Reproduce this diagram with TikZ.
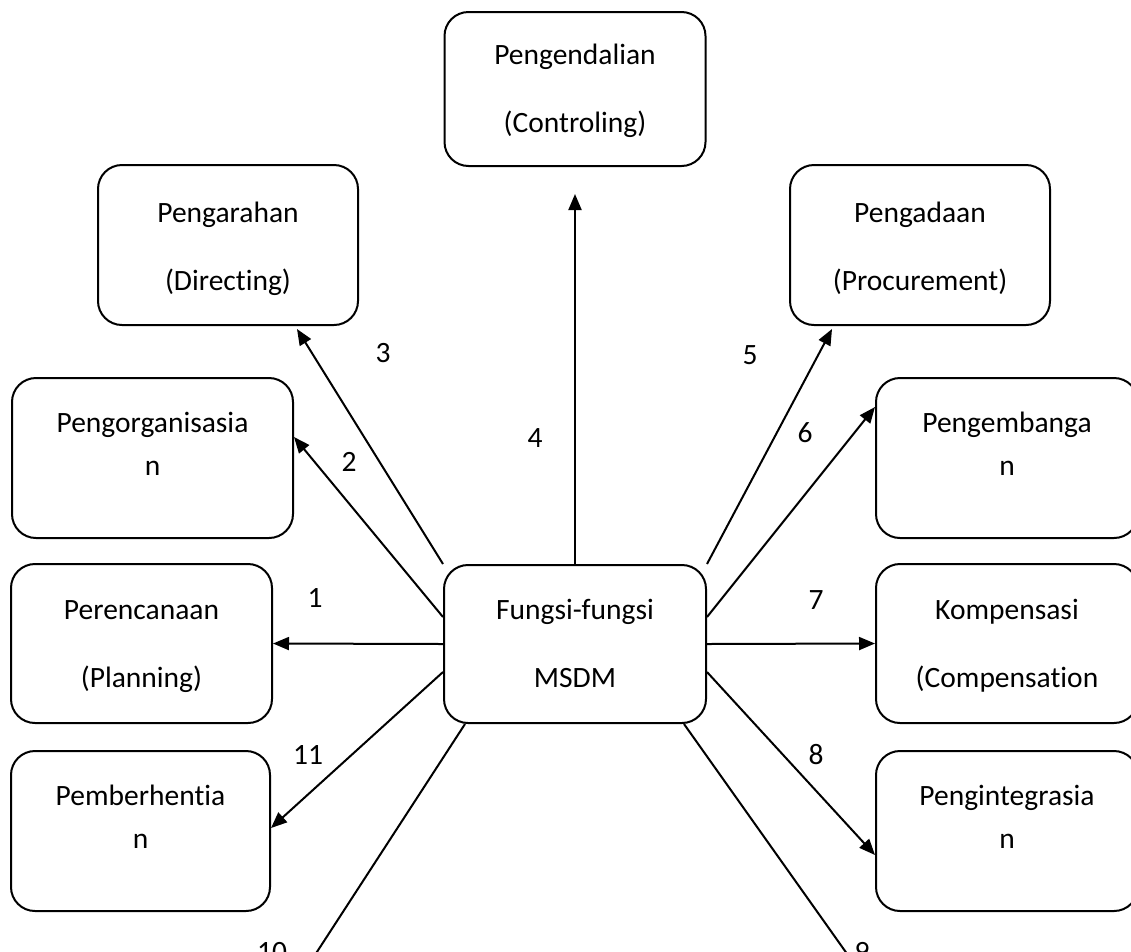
\documentclass[tikz,border=0pt]{standalone}
\usepackage{fontspec}
\setmainfont{Carlito}[Ligatures=NoCommon]
\usetikzlibrary{
  arrows.meta,  % Arrow tip "Triangle"
}
\tikzset{
  font=\fontsize{29.5}{36}\selectfont,
  >={Triangle[length=16pt,width=13pt]},
  diagram/.style={
    x=1pt,
    y=-1pt,
    line width=2pt
  },
  my box/.style={
    draw,
    rectangle,
    rounded corners=24pt,
    minimum width=261pt,
    minimum height=160pt,
    inner sep=0pt
  },
  my text/.style={
    align=center,
    inner sep=0pt
  },
  my num/.style={
    inner sep=0pt
  }
}
\newcommand{\twoline}[3]{\strut #1\\[#3]\strut #2}

\begin{document}
\begin{tikzpicture}[diagram]
\path[use as bounding box,fill=white] (0,0) rectangle (1131,951);
% Centre node
\node[my box,minimum width=262pt,minimum height=158pt] (msdm) at (575,644) {};
\node[my text] (msdm txt) at ([yshift=-2pt]msdm.center) {\twoline{Fungsi-fungsi}{MSDM}{32pt}};
% Top row
\node[my box,minimum height=154pt] (ctrl) at (575,89) {};
\node[my text] (ctrl txt) at ([yshift=-2pt]ctrl.center) {\twoline{Pengendalian}{(Controling)}{32pt}};
\node[my box,minimum width=260pt] (dir) at (228,245) {};
\node[my text] (dir txt) at ([yshift=-4pt]dir.center) {\twoline{Pengarahan}{(Directing)}{32pt}};
\node[my box,minimum width=260pt] (proc) at (920,245) {};
\node[my text] (proc txt) at ([yshift=-4pt]proc.center) {\twoline{Pengadaan}{(Procurement)}{32pt}};
% Left column
\node[my box,minimum width=281pt] (orga) at (152.5,458) {};
\node[my text] (orga txt) at ([yshift=11.5pt]orga.center) {\twoline{Pengorganisasia}{n}{7pt}};
\node[my box,minimum height=159pt] (plan) at (141.5,643.5) {};
\node[my text] (plan txt) at ([yshift=-2.5pt]plan.center) {\twoline{Perencanaan}{(Planning)}{32pt}};
\node[my box,minimum width=259pt] (stop) at (140.5,831) {};
\node[my text] (stop txt) at ([yshift=11pt]stop.center) {\twoline{Pemberhentia}{n}{7pt}};
% Right column
\node[my box,minimum width=262pt] (devel) at (1007,458) {};
\node[my text] (devel txt) at ([yshift=11.5pt]devel.center) {\twoline{Pengembanga}{n}{7pt}};
\node[my box,minimum width=262pt,minimum height=159pt] (comp) at (1007,643.5) {};
\node[my text] (comp txt) at ([yshift=-2.5pt]comp.center) {\twoline{Kompensasi}{(Compensation}{32pt}};
\node[my box,minimum width=262pt] (integ) at (1007,831) {};
\node[my text] (integ txt) at ([yshift=11pt]integ.center) {\twoline{Pengintegrasia}{n}{7pt}};
% Loose ends below the page
\coordinate (c10) at (313,958);
\coordinate (c9) at (850,958);
% Connectors
\draw[->] (msdm.west) -- (plan.east);
\draw[->] ([yshift=27pt]msdm.west) -- ([yshift=21pt]orga.east);
\draw[->] (msdm.north west) -- ([xshift=69pt,yshift=-3pt]dir.south);
\draw[->] (msdm.north) -- ([yshift=-27pt]ctrl.south);
\draw[->] (msdm.north east) -- ([xshift=-88pt,yshift=-3pt]proc.south);
\draw[->] ([yshift=27pt]msdm.east) -- ([yshift=51pt]devel.west);
\draw[->] (msdm.east) -- (comp.west);
\draw[->] ([yshift=-28pt]msdm.east) -- ([yshift=-24pt]integ.west);
\draw[->] ([yshift=-28pt]msdm.west) -- ([yshift=3pt]stop.east);
\draw ([xshift=22pt]msdm.south west) -- (c10);
\draw ([xshift=-23pt]msdm.south east) -- (c9);
% Numbers
\node[my num] (n1) at (315,598) {1};
\node[my num] (n2) at (349,462) {2};
\node[my num] (n3) at (383,353) {3};
\node[my num] (n4) at (535,438) {4};
\node[my num] (n5) at (750,355) {5};
\node[my num] (n6) at (805,433) {6};
\node[my num] (n7) at (816,600) {7};
\node[my num] (n8) at (816,755) {8};
\node[my num] (n9) at (862,952) {9};
\node[my num] (n10) at (272,952) {10};
\node[my num] (n11) at (308,755) {11};
\end{tikzpicture}
\end{document}
